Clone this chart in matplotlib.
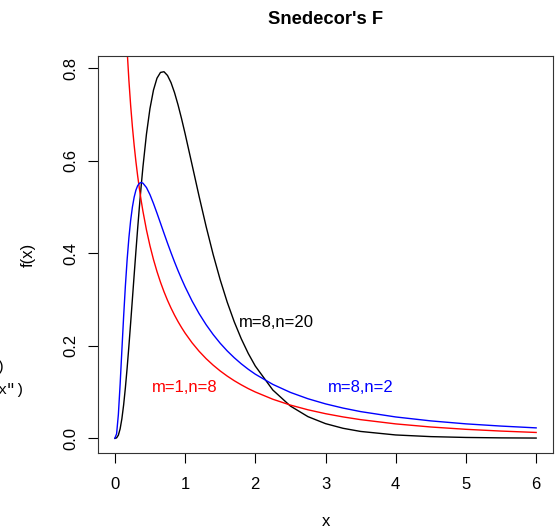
import matplotlib
matplotlib.use("Agg")
import matplotlib.pyplot as plt

plt.rcParams['font.family'] = ['Liberation Sans', 'DejaVu Sans']

# x positions and curve heights
x_vals = [0, 0.025, 0.05, 0.075, 0.1, 0.125, 0.15, 0.175, 0.2, 0.225, 0.25, 0.275,
          0.3, 0.325, 0.35, 0.375, 0.4,
          0.45, 0.5, 0.55, 0.6, 0.65, 0.7, 0.75, 0.8, 0.85, 0.9, 0.95, 1.0,
          1.1, 1.2, 1.3, 1.4, 1.5, 1.6, 1.7, 1.8, 1.9, 2.0,
          2.25, 2.5, 2.75, 3.0, 3.25, 3.5,
          4.0, 4.5, 5.0, 5.5, 6.0]

f_8_20 = [0, 0.0010, 0.0069, 0.0204, 0.0423, 0.0722, 0.1093, 0.1522, 0.1994, 0.2496,
          0.3013, 0.3533, 0.4045, 0.4541, 0.5014, 0.5457, 0.5866,
          0.6575, 0.7128, 0.7528, 0.7785, 0.7910, 0.7925, 0.7844, 0.7689, 0.7472,
          0.7208, 0.6910, 0.6589,
          0.5912, 0.5230, 0.4578, 0.3974, 0.3429, 0.2945, 0.2521, 0.2153, 0.1835, 0.1563,
          0.1044, 0.0698, 0.0469, 0.0318, 0.0217, 0.0149,
          0.0073, 0.0037, 0.0019, 0.0010, 0.0006]

f_8_2 = [0, 0.0099, 0.0514, 0.1164, 0.1904, 0.2634, 0.3296, 0.3865, 0.4335, 0.4711,
         0.5000, 0.5214, 0.5365, 0.5462, 0.5514, 0.5530, 0.5516,
         0.5422, 0.5268, 0.5077, 0.4868, 0.4651, 0.4433, 0.4219, 0.4012, 0.3813,
         0.3624, 0.3446, 0.3277,
         0.2968, 0.2696, 0.2456, 0.2244, 0.2056, 0.1890, 0.1743, 0.1611, 0.1493, 0.1387,
         0.1166, 0.0993, 0.0856, 0.0745, 0.0654, 0.0578,
         0.0462, 0.0377, 0.0313, 0.0265, 0.0226]

# m=1,n=8 has no value at 0 and runs off the top near zero
x_red = x_vals[1:]
f_1_8 = [2.4116, 1.6816, 1.3540, 1.1564, 1.0200, 0.9184, 0.8386, 0.7738, 0.7196,
         0.6734, 0.6334, 0.5982, 0.5670, 0.5391, 0.5138, 0.4909,
         0.4506, 0.4163, 0.3866, 0.3606, 0.3375, 0.3169, 0.2983, 0.2816, 0.2663,
         0.2523, 0.2395, 0.2276,
         0.2065, 0.1882, 0.1722, 0.1582, 0.1457, 0.1346, 0.1246, 0.1157, 0.1075, 0.1002,
         0.0845, 0.0719, 0.0617, 0.0533, 0.0463, 0.0404,
         0.0312, 0.0245, 0.0195, 0.0157, 0.0127]

fig = plt.figure(figsize=(5.6, 5.28), dpi=100)
ax = fig.add_axes([98/560, 1-453/528, 455/560, 397/528])

ax.plot(x_vals, f_8_20, color='black', lw=1)
ax.plot(x_red, f_1_8, color='red', lw=1)
ax.plot(x_vals, f_8_2, color='blue', lw=1)

ax.text(2.3, 0.25, "m=8,n=20", color='black', fontsize=12, ha='center', va='center')
ax.text(1.0, 0.11, "m=1,n=8", color='red', fontsize=12, ha='center', va='center')
ax.text(3.5, 0.11, "m=8,n=2", color='blue', fontsize=12, ha='center', va='center')

ax.set_xlim(-0.24, 6.24)
ax.set_ylim(-0.0317, 0.8265)
ax.set_xticks([0, 1, 2, 3, 4, 5, 6])
ax.set_yticks([0.0, 0.2, 0.4, 0.6, 0.8])
ax.set_yticklabels(["0.0", "0.2", "0.4", "0.6", "0.8"], rotation=90, va='center')
ax.tick_params(direction='out', length=7, width=0.8, labelsize=12, pad=10)
ax.tick_params(axis='y', pad=7)
for s in ax.spines.values():
    s.set_linewidth(0.8)
    s.set_color('#333333')

ax.set_xlabel("x", fontsize=12, labelpad=16)
ax.set_ylabel("f(x)", fontsize=12, labelpad=20)
ax.set_title("Snedecor's F", fontsize=13.2, fontweight='bold', pad=23)

# leftover console text cut at the left edge
fig.text(4.5/560, 1-367/528, ")", fontsize=11, ha='right', va='center',
         family='Liberation Mono')
fig.text(25/560, 1-390/528, 'x")', fontsize=11, ha='right', va='center',
         family='Liberation Mono')

fig.savefig("out.png", dpi=100)
